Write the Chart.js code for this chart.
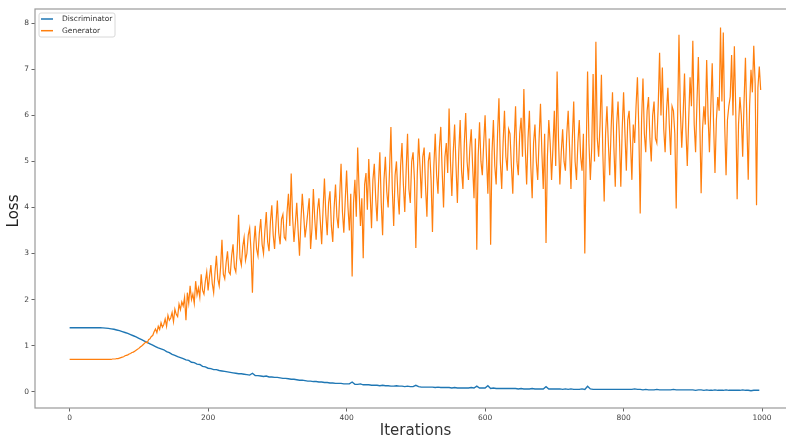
<!DOCTYPE html>
<html>
<head>
<meta charset="utf-8">
<script src="https://cdn.jsdelivr.net/npm/chart.js@4"></script>
<style>
  html, body { margin: 0; padding: 0; background: #fff; }
  #wrap { width: 786px; height: 438px; overflow: hidden; position: relative; }
  #loss-chart { position: absolute; left: 0; top: 0; }
</style>
</head>
<body>
<div id="wrap"><canvas id="loss-chart" width="820" height="438"></canvas></div>
<script>
// discriminator sampled every 4 iterations, generator every 2 (0 .. 998)
const DISC_STEP = 4;
const GEN_STEP = 2;

const DISCRIMINATOR = [
  1.39, 1.39, 1.39, 1.39, 1.39, 1.39, 1.39, 1.39, 1.39, 1.39,
  1.39, 1.39, 1.385, 1.38, 1.375, 1.365, 1.355, 1.34, 1.325, 1.305,
  1.285, 1.265, 1.24, 1.215, 1.19, 1.16, 1.13, 1.10, 1.07, 1.04,
  1.01, 0.98, 0.95, 0.93, 0.91, 0.87, 0.85, 0.81, 0.79, 0.76,
  0.74, 0.72, 0.69, 0.68, 0.64, 0.63, 0.60, 0.59, 0.55, 0.54,
  0.51, 0.50, 0.48, 0.48, 0.46, 0.45, 0.44, 0.43, 0.42, 0.41,
  0.40, 0.39, 0.39, 0.38, 0.37, 0.36, 0.40, 0.35, 0.35, 0.34,
  0.33, 0.34, 0.32, 0.32, 0.31, 0.31, 0.30, 0.29, 0.29, 0.28,
  0.27, 0.27, 0.26, 0.25, 0.25, 0.24, 0.23, 0.23, 0.22, 0.22,
  0.21, 0.21, 0.20, 0.20, 0.19, 0.19, 0.18, 0.18, 0.18, 0.17,
  0.17, 0.17, 0.21, 0.16, 0.16, 0.17, 0.15, 0.15, 0.15, 0.14,
  0.14, 0.14, 0.13, 0.14, 0.13, 0.13, 0.12, 0.12, 0.13, 0.12,
  0.12, 0.11, 0.12, 0.11, 0.11, 0.14, 0.11, 0.10, 0.10, 0.10,
  0.10, 0.10, 0.09, 0.10, 0.09, 0.09, 0.09, 0.09, 0.08, 0.09,
  0.08, 0.08, 0.08, 0.08, 0.08, 0.09, 0.08, 0.12, 0.08, 0.08,
  0.08, 0.13, 0.07, 0.08, 0.07, 0.07, 0.07, 0.07, 0.07, 0.07,
  0.07, 0.07, 0.06, 0.07, 0.06, 0.06, 0.06, 0.07, 0.06, 0.06,
  0.06, 0.06, 0.11, 0.06, 0.06, 0.06, 0.06, 0.06, 0.05, 0.06,
  0.05, 0.06, 0.05, 0.05, 0.05, 0.06, 0.05, 0.12, 0.06, 0.05,
  0.05, 0.05, 0.05, 0.05, 0.05, 0.05, 0.05, 0.05, 0.05, 0.05,
  0.05, 0.05, 0.05, 0.05, 0.06, 0.05, 0.05, 0.04, 0.05, 0.04,
  0.04, 0.04, 0.05, 0.04, 0.04, 0.04, 0.04, 0.04, 0.05, 0.04,
  0.04, 0.04, 0.04, 0.04, 0.04, 0.04, 0.03, 0.04, 0.04, 0.03,
  0.04, 0.03, 0.03, 0.04, 0.03, 0.03, 0.03, 0.04, 0.03, 0.03,
  0.03, 0.03, 0.03, 0.04, 0.03, 0.03, 0.02, 0.03, 0.03, 0.03
];

const GENERATOR = [
  // 0 - 38
  0.70, 0.70, 0.70, 0.70, 0.70, 0.70, 0.70, 0.70, 0.70, 0.70,
  0.70, 0.70, 0.70, 0.70, 0.70, 0.70, 0.70, 0.70, 0.70, 0.70,
  // 40 - 78
  0.70, 0.70, 0.70, 0.70, 0.70, 0.70, 0.70, 0.70, 0.70, 0.70,
  0.70, 0.71, 0.71, 0.71, 0.72, 0.72, 0.73, 0.74, 0.75, 0.76,
  // 80 - 118
  0.78, 0.79, 0.80, 0.82, 0.83, 0.85, 0.86, 0.88, 0.90, 0.92,
  0.94, 0.97, 0.99, 1.02, 1.05, 1.08, 1.06, 1.13, 1.15, 1.20,
  // 120 - 158
  1.22, 1.30, 1.36, 1.28, 1.42, 1.35, 1.50, 1.40, 1.46, 1.58,
  1.42, 1.66, 1.55, 1.60, 1.72, 1.52, 1.79, 1.68, 1.63, 1.90,
  // 160 - 198
  1.78, 1.95, 1.86, 2.05, 1.55, 2.15, 1.92, 2.30, 2.00, 2.12,
  1.92, 2.40, 2.10, 2.25, 2.05, 2.55, 2.20, 2.12, 2.40, 2.60,
  // 200 - 238
  2.20, 2.50, 2.75, 2.35, 2.15, 2.60, 2.95, 2.45, 2.30, 2.70,
  3.30, 2.55, 2.45, 2.80, 3.05, 2.60, 2.55, 2.95, 3.20, 2.70,
  // 240 - 278
  2.60, 3.05, 3.84, 2.90, 2.75, 3.15, 3.35, 2.85, 3.00, 3.40,
  3.55, 3.05, 2.15, 3.20, 3.60, 3.10, 2.95, 3.45, 3.75, 3.20,
  // 280 - 318
  3.00, 3.50, 3.90, 3.25, 3.05, 3.70, 4.05, 3.40, 3.10, 3.65,
  4.15, 3.45, 3.20, 3.75, 3.85, 3.35, 3.30, 3.90, 4.30, 3.60,
  // 320 - 358
  4.74, 3.80, 3.25, 3.65, 4.10, 3.50, 2.95, 3.70, 4.30, 3.85,
  3.35, 3.60, 3.90, 4.20, 3.10, 3.55, 4.40, 3.75, 3.30, 3.95,
  // 360 - 398
  4.20, 3.70, 3.20, 3.95, 4.63, 3.85, 3.40, 4.10, 4.35, 3.60,
  3.25, 4.00, 4.50, 3.80, 3.55, 4.25, 4.95, 3.90, 3.45, 4.15,
  // 400 - 438
  4.80, 4.00, 3.50, 4.30, 2.50, 4.10, 4.60, 3.80, 5.30, 4.40,
  3.60, 4.20, 2.90, 4.50, 4.75, 3.95, 5.05, 4.30, 3.55, 4.60,
  // 440 - 478
  4.95, 4.20, 3.70, 4.50, 5.20, 4.10, 3.40, 4.60, 5.10, 4.35,
  4.00, 4.80, 5.75, 4.40, 3.60, 4.70, 5.00, 4.30, 3.85, 4.90,
  // 480 - 518
  5.40, 4.50, 3.90, 4.80, 5.60, 4.40, 4.10, 5.00, 5.20, 4.60,
  3.12, 4.70, 5.50, 4.90, 4.20, 5.10, 5.30, 4.45, 3.80, 5.00,
  // 520 - 558
  5.20, 4.60, 3.47, 4.90, 5.60, 4.70, 4.30, 5.30, 5.75, 4.80,
  4.00, 5.10, 5.40, 4.75, 6.15, 5.00, 4.25, 5.20, 5.80, 4.90,
  // 560 - 598
  4.10, 5.20, 5.90, 4.80, 4.40, 5.40, 6.05, 5.00, 4.60, 5.30,
  5.70, 4.90, 4.20, 5.50, 3.08, 5.10, 5.85, 5.00, 4.70, 5.40,
  // 600 - 638
  6.00, 5.10, 4.30, 5.50, 3.19, 5.20, 5.90, 4.90, 4.50, 5.60,
  6.37, 5.00, 4.40, 5.40, 6.10, 5.10, 4.80, 5.70, 5.60, 4.90,
  // 640 - 678
  4.30, 5.40, 6.20, 5.00, 4.70, 5.60, 5.95, 5.10, 6.57, 5.30,
  4.50, 5.50, 6.10, 4.90, 4.20, 5.40, 5.80, 5.00, 4.60, 5.50,
  // 680 - 718
  6.25, 5.20, 4.40, 5.60, 3.23, 5.10, 5.90, 5.40, 4.60, 5.30,
  6.10, 4.90, 6.95, 5.50, 4.50, 5.20, 5.70, 5.00, 4.80, 5.60,
  // 720 - 758
  6.10, 5.30, 4.40, 5.50, 6.30, 5.00, 4.60, 5.40, 5.90, 5.10,
  4.80, 5.60, 3.00, 5.20, 6.95, 5.40, 4.60, 5.30, 6.90, 5.00,
  // 760 - 798
  7.60, 5.50, 5.10, 5.80, 6.88, 5.20, 4.13, 5.60, 6.20, 5.40,
  4.70, 5.70, 6.50, 5.30, 4.45, 5.80, 6.30, 5.50, 4.45, 5.70,
  // 800 - 838
  6.50, 5.60, 4.80, 5.90, 6.10, 5.40, 4.60, 5.80, 5.40, 6.20,
  6.83, 5.70, 3.87, 5.90, 6.80, 5.60, 5.20, 6.10, 6.40, 5.50,
  // 840 - 878
  5.00, 6.00, 6.30, 5.50, 5.40, 6.20, 7.36, 6.00, 7.04, 5.70,
  5.20, 6.10, 6.60, 5.80, 5.14, 6.20, 6.10, 5.60, 3.98, 5.90,
  // 880 - 918
  7.75, 6.10, 5.30, 6.00, 6.91, 5.70, 4.90, 5.90, 6.83, 6.20,
  7.62, 5.80, 5.20, 6.30, 7.27, 5.90, 4.31, 5.70, 6.20, 5.80,
  // 920 - 958
  7.20, 6.00, 5.20, 6.20, 7.13, 5.80, 4.75, 5.90, 6.40, 6.10,
  7.91, 6.30, 7.80, 5.80, 4.70, 5.90, 6.20, 6.40, 7.31, 6.00,
  // 960 - 998
  7.50, 6.10, 4.18, 5.80, 6.40, 6.00, 5.10, 6.30, 7.25, 5.90,
  4.60, 6.20, 6.99, 6.50, 7.51, 6.70, 4.05, 6.60, 7.06, 6.55
];

const X_TICKS = [0, 200, 400, 600, 800, 1000];
const Y_TICKS = [0, 1, 2, 3, 4, 5, 6, 7, 8];

const SERIES_NAMES = ["Discriminator", "Generator"];
const X_TITLE = "Iterations";
const Y_TITLE = "Loss";

document.addEventListener("DOMContentLoaded", function () {
  const BLUE = "#1f77b4";
  const ORANGE = "#ff7f0e";
  const FONT = "'DejaVu Sans', sans-serif";

  const toPoints = (arr, step) => arr.map((v, i) => ({ x: i * step, y: v }));

  // ---- spines, axis titles and legend drawn like matplotlib ----
  const framePlugin = {
    id: "frame",
    afterDraw(chart) {
      const { ctx, chartArea } = chart;
      const { left, top, right, bottom } = chartArea;
      ctx.save();
      ctx.strokeStyle = "#9a9a9a";
      ctx.lineWidth = 1.2;
      ctx.strokeRect(left, top, right - left, bottom - top);

      // axis titles
      ctx.fillStyle = "#333";
      ctx.font = `15px ${FONT}`;
      ctx.textAlign = "center";
      ctx.textBaseline = "middle";
      ctx.fillText(X_TITLE, (left + right) / 2, 431);
      ctx.save();
      ctx.translate(14, 211);
      ctx.rotate(-Math.PI / 2);
      ctx.fillStyle = "#222";
      ctx.fillText(Y_TITLE, 0, 0);
      ctx.restore();

      // legend box in upper left
      const bx = left + 4, by = top + 4, bw = 76, bh = 24;
      ctx.fillStyle = "rgba(255,255,255,0.8)";
      ctx.strokeStyle = "#d8d8d8";
      ctx.lineWidth = 1;
      ctx.beginPath();
      ctx.roundRect(bx, by, bw, bh, 2);
      ctx.fill();
      ctx.stroke();

      ctx.font = `7.5px ${FONT}`;
      ctx.textAlign = "left";
      chart.data.datasets.forEach((ds, i) => {
        const y = by + 6 + i * 11.7;
        ctx.strokeStyle = ds.borderColor;
        ctx.lineWidth = 1.5;
        ctx.beginPath();
        ctx.moveTo(bx + 2, y);
        ctx.lineTo(bx + 14, y);
        ctx.stroke();
        ctx.fillStyle = "#333";
        ctx.fillText(ds.label, bx + 23, y);
      });
      ctx.restore();
    }
  };

  new Chart(document.getElementById("loss-chart"), {
    type: "line",
    data: {
      datasets: [
        {
          label: SERIES_NAMES[0],
          data: toPoints(DISCRIMINATOR, DISC_STEP),
          borderColor: BLUE,
          borderWidth: 1.4,
          pointRadius: 0,
          tension: 0,
          order: 1
        },
        {
          label: SERIES_NAMES[1],
          data: toPoints(GENERATOR, GEN_STEP),
          borderColor: ORANGE,
          borderWidth: 1.2,
          pointRadius: 0,
          tension: 0,
          order: 0
        }
      ]
    },
    options: {
      responsive: false,
      animation: false,
      devicePixelRatio: 1,
      layout: {
        padding: { top: 9, right: 24, left: 0, bottom: 0 }
      },
      plugins: {
        legend: { display: false },
        tooltip: { enabled: false }
      },
      scales: {
        x: {
          type: "linear",
          min: -50,
          max: 1049,
          afterFit(scale) { scale.height = 30; },
          afterBuildTicks(scale) { scale.ticks = X_TICKS.map(v => ({ value: v })); },
          border: { display: false },
          grid: {
            drawOnChartArea: false,
            drawTicks: true,
            tickLength: 3.5,
            color: "#666"
          },
          ticks: {
            color: "#444",
            padding: 2,
            maxRotation: 0,
            callback: v => String(v),
            font: { family: FONT, size: 7.5 }
          }
        },
        y: {
          min: -0.354,
          max: 8.31,
          afterFit(scale) { scale.width = 35; },
          afterBuildTicks(scale) { scale.ticks = Y_TICKS.map(v => ({ value: v })); },
          border: { display: false },
          grid: {
            drawOnChartArea: false,
            drawTicks: true,
            tickLength: 3.5,
            color: "#666"
          },
          ticks: {
            color: "#444",
            padding: 2.5,
            callback: v => String(v),
            font: { family: FONT, size: 7.5 }
          }
        }
      }
    },
    plugins: [framePlugin]
  });
});
</script>
</body>
</html>
